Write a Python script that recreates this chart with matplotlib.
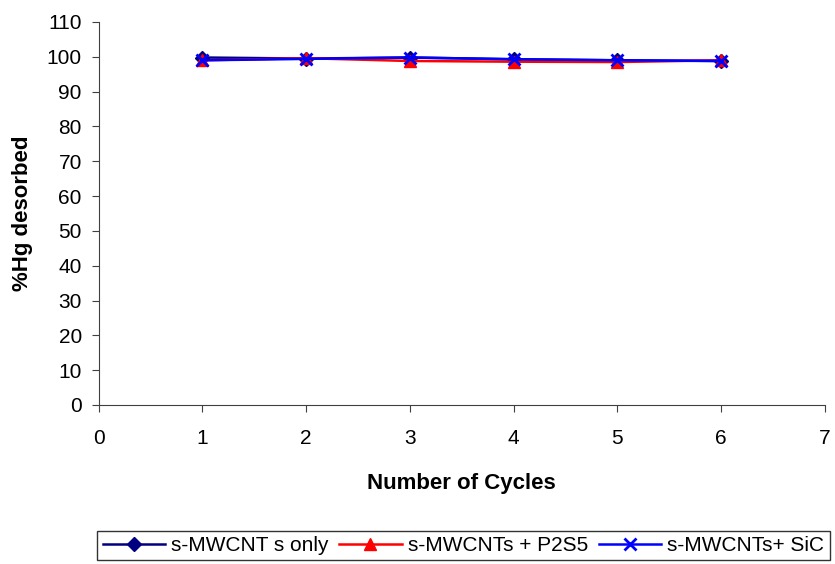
import numpy as np
import matplotlib.pyplot as plt

plt.rcParams['font.family'] = ['Liberation Sans', 'DejaVu Sans']

cycles = [1, 2, 3, 4, 5, 6]
only_vals = [99.8, 99.5, 99.8, 99.3, 99.0, 98.8]
p2s5_vals = [99.0, 99.6, 98.8, 98.6, 98.5, 99.0]
sic_vals = [99.0, 99.4, 99.8, 99.3, 99.0, 98.8]
labels = ["s-MWCNT s only", "s-MWCNTs + P2S5", "s-MWCNTs+ SiC"]

fig = plt.figure(figsize=(8.35, 5.64), dpi=100)
ax = fig.add_axes([0.118, 0.282, 0.870, 0.679])

l1, = ax.plot(cycles, only_vals, color='#000080', marker='D', ms=7, lw=1.8)
l2, = ax.plot(cycles, p2s5_vals, color='#ff0000', marker='^', ms=9, lw=1.8)
l3, = ax.plot(cycles, sic_vals, color='#0000ff', marker='x', ms=9, mew=2, lw=1.8)

ax.set_xlim(0, 7)
ax.set_ylim(0, 110)
ax.set_xticks(range(0, 8))
ax.set_yticks(range(0, 111, 10))
ax.tick_params(direction='out', labelsize=15, length=5, color='#404040')
ax.tick_params(axis='x', pad=12)
ax.tick_params(axis='y', pad=7)
for s in ['top', 'right']:
    ax.spines[s].set_visible(False)
for s in ['left', 'bottom']:
    ax.spines[s].set_color('#404040')

ax.set_xlabel("Number of Cycles", fontsize=16, fontweight='bold', labelpad=18)
ax.set_ylabel("%Hg desorbed", fontsize=16, fontweight='bold', labelpad=10)

leg = fig.legend([l1, l2, l3], labels, loc='center', bbox_to_anchor=(0.555, 0.033),
                 ncol=3, fontsize=15, frameon=True, fancybox=False, edgecolor='black',
                 handlelength=3.0, columnspacing=0.5, handletextpad=0.3, borderpad=0.25)
leg.get_frame().set_linewidth(1.0)

plt.savefig("out.png", dpi=100)
